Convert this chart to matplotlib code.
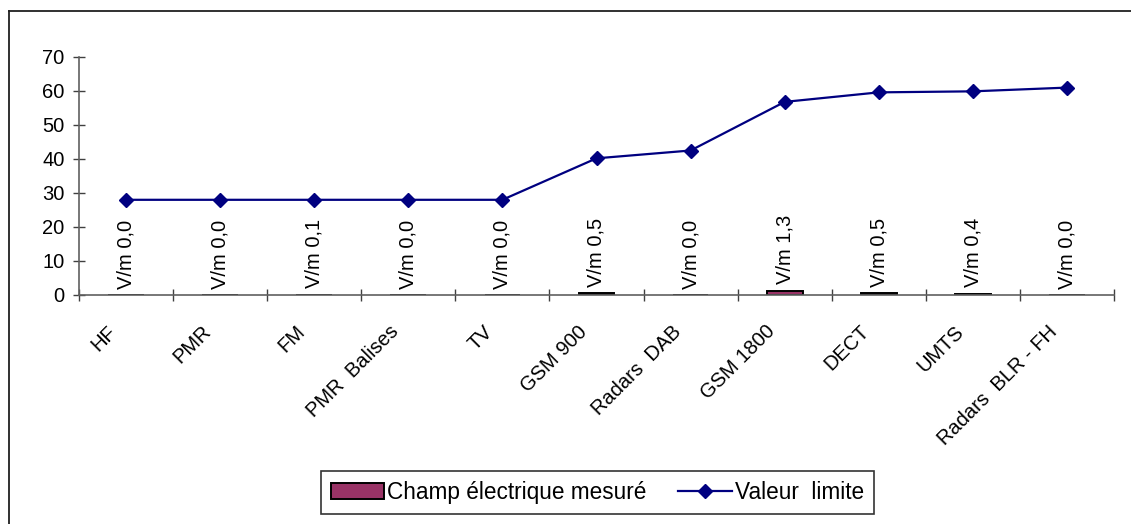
import matplotlib
matplotlib.use("Agg")
import matplotlib.pyplot as plt
import matplotlib.transforms as mtransforms
from matplotlib.lines import Line2D
import numpy as np

plt.rcParams['font.family'] = ['Liberation Sans', 'DejaVu Sans']

# data
categories = ["HF", "PMR", "FM", "PMR  Balises", "TV", "GSM 900", "Radars  DAB",
              "GSM 1800", "DECT", "UMTS", "Radars  BLR - FH"]
champ_mesure = [0.0, 0.0, 0.1, 0.0, 0.0, 0.5, 0.0, 1.3, 0.5, 0.4, 0.0]
valeur_limite = [28, 28, 28, 28, 28, 40.2, 42.5, 56.8, 59.6, 59.9, 61.0]
yticks = [0, 10, 20, 30, 40, 50, 60, 70]

W, H = 1131, 524
fig = plt.figure(figsize=(W / 100, H / 100), dpi=100)
ax = fig.add_axes([79 / W, 1 - 295 / H, (1114 - 79) / W, (295 - 57) / H])

x = np.arange(len(categories))
bars = ax.bar(x, champ_mesure, width=0.38, color="#993366", edgecolor="black",
              linewidth=1.4, label="Champ électrique mesuré", zorder=2)
line, = ax.plot(x, valeur_limite, color="#000080", lw=1.6, marker="D", markersize=7.5,
                label="Valeur  limite", zorder=3)

# value labels above the bars
for xi, v in zip(x, champ_mesure):
    lab = "V/m " + f"{v:.1f}".replace(".", ",")
    ax.annotate(lab, (xi, v), xytext=(0, 4.5), textcoords="offset points",
                rotation=90, ha="center", va="bottom", fontsize=14.5)

ax.set_xlim(-0.5, len(categories) - 0.5)
ax.set_ylim(0, 70)
ax.set_yticks(yticks)
ax.set_xticks(np.arange(-0.5, len(categories)))
ax.set_xticklabels([])

for s in ["top", "right"]:
    ax.spines[s].set_visible(False)
for s in ["left", "bottom"]:
    ax.spines[s].set_color("#606060")
    ax.spines[s].set_linewidth(1.2)
ax.tick_params(axis="both", direction="inout", length=9, width=1, color="#404040")
ax.tick_params(axis="y", labelsize=14.5, pad=6)

# rotated category labels
trans = mtransforms.offset_copy(ax.get_xaxis_transform(), fig=fig, x=-19, y=-27, units="dots")
for xi, name in zip(x, categories):
    ax.text(xi, 0, name, transform=trans, rotation=45, rotation_mode="anchor",
            ha="right", va="top", fontsize=14.5)

leg = ax.legend(handles=[bars, line], loc="center",
                bbox_to_anchor=(597.5 / W, 1 - 492.5 / H),
                bbox_transform=fig.transFigure, ncol=2, fontsize=16.3,
                frameon=True, fancybox=False, shadow=False, handlelength=2.35,
                handletextpad=0.15, columnspacing=1.4, borderpad=0.42)
leg.get_frame().set_edgecolor("black")
leg.get_frame().set_linewidth(1.2)

# outer chart frame
fig.add_artist(Line2D([8.5 / W, 8.5 / W], [0, 1 - 11 / H], transform=fig.transFigure,
                      color="#202020", lw=1.3))
fig.add_artist(Line2D([8.5 / W, 1], [1 - 11 / H, 1 - 11 / H], transform=fig.transFigure,
                      color="#202020", lw=1.3))

fig.savefig("out.png", dpi=100)
